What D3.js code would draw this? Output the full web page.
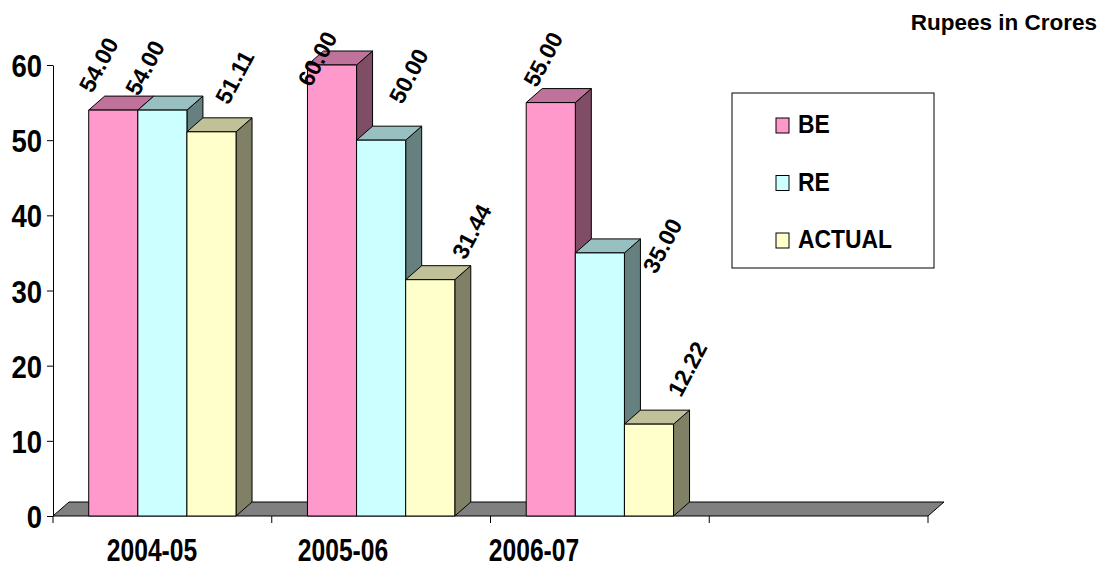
<!DOCTYPE html>
<html>
<head>
<meta charset="utf-8">
<script src="https://cdn.jsdelivr.net/npm/d3@7"></script>
<style>
  html, body { margin: 0; padding: 0; background: #fff; }
  svg { display: block; }
  text { font-family: "Liberation Sans", Arial, sans-serif; font-weight: bold; fill: #000; }
</style>
</head>
<body>
<svg id="chart" width="1104" height="569"></svg>
<script>
// ---- data ----
const categories = ["2004-05", "2005-06", "2006-07"];
const seriesNames = ["BE", "RE", "ACTUAL"];
const beValues = [54.00, 60.00, 55.00];
const reValues = [54.00, 50.00, 35.00];
const actualValues = [51.11, 31.44, 12.22];
const yTicks = [0, 10, 20, 30, 40, 50, 60];
const unitNote = "Rupees in Crores";

// ---- styling / layout ----
const faceColors = {
  BE:     { front: "#FF99CC", top: "#C0739A", side: "#804D66" },
  RE:     { front: "#CCFFFF", top: "#99C0C0", side: "#668080" },
  ACTUAL: { front: "#FFFFCC", top: "#C0C099", side: "#808066" }
};
const depth = { dx: 16, dy: -14 };
const slotCount = 4;            // the category axis keeps one empty slot on the right
// label anchor nudges (baseline start) relative to the centre of each bar's front-top edge
const labelNudge = {
  BE:     [[-21, -16], [-21, 23], [-14, -14]],
  RE:     [[-24, -13], [21, -35], [56, 22]],
  ACTUAL: [[17, -26], [35, -19], [32, -26]]
};

const valuesBySeries = { BE: beValues, RE: reValues, ACTUAL: actualValues };

const svg = d3.select("#chart");

const x0 = d3.scaleBand().domain(d3.range(slotCount)).range([53, 928]).paddingInner(0);
const x1 = d3.scaleBand().domain(seriesNames).range([0, x0.bandwidth()]).paddingInner(0).paddingOuter(0.727);
const y = d3.scaleLinear().domain([0, 60]).range([516, 65]);

// floor
const fx0 = x0.range()[0], fx1 = x0.range()[1], fy = y(0);
svg.append("path")
  .attr("d", `M${fx0},${fy} L${fx1},${fy} L${fx1 + depth.dx},${fy + depth.dy} L${fx0 + depth.dx},${fy + depth.dy} Z`)
  .attr("fill", "#808080").attr("stroke", "#000").attr("stroke-width", 1);

// y axis
const yAxis = d3.axisLeft(y).tickValues(yTicks).tickSize(6).tickSizeOuter(0).tickFormat(d3.format("d"));
const gy = svg.append("g").attr("transform", `translate(${fx0},0)`).call(yAxis);
gy.select(".domain").attr("stroke", "#000");
gy.selectAll(".tick line").attr("stroke", "#000");
gy.selectAll(".tick text")
  .attr("x", null).attr("dy", null)
  .attr("transform", "translate(-11,11.5) scale(0.86,1)")
  .style("font-size", "32px")
  .style("font-family", "'Liberation Sans', Arial, sans-serif")
  .style("font-weight", "bold")
  .attr("fill", "#000");

// category boundary ticks below the floor
const boundaries = d3.range(slotCount).map(i => x0(i)).concat([fx1]);
svg.append("g").selectAll("line").data(boundaries).join("line")
  .attr("x1", d => d).attr("x2", d => d)
  .attr("y1", fy).attr("y2", fy + 7)
  .attr("stroke", "#000").attr("stroke-width", 1);

// category labels
const xLabel = d3.scalePoint().domain(categories).range([152, 534]);
svg.append("g").selectAll("text").data(categories).join("text")
  .attr("transform", d => `translate(${xLabel(d)},561) scale(0.77,1)`)
  .attr("text-anchor", "middle")
  .style("font-size", "32px")
  .text(d => d);

// 3D bars, drawn left to right so each bar hides the lower part of its neighbour's side
const barsG = svg.append("g");
categories.forEach((cat, ci) => {
  seriesNames.forEach(s => {
    const v = valuesBySeries[s][ci];
    const xl = x0(ci) + x1(s);
    const xr = xl + x1.bandwidth();
    const yt = y(v), yb = y(0);
    const dx = depth.dx, dy = depth.dy;
    const c = faceColors[s];
    const g = barsG.append("g");
    g.append("path")
      .attr("d", `M${xr},${yt} L${xr + dx},${yt + dy} L${xr + dx},${yb + dy} L${xr},${yb} Z`)
      .attr("fill", c.side);
    g.append("path")
      .attr("d", `M${xl},${yt} L${xr},${yt} L${xr + dx},${yt + dy} L${xl + dx},${yt + dy} Z`)
      .attr("fill", c.top);
    g.append("rect")
      .attr("x", xl).attr("y", yt).attr("width", xr - xl).attr("height", yb - yt)
      .attr("fill", c.front);
    g.selectAll("path, rect").attr("stroke", "#000").attr("stroke-width", 1).attr("stroke-linejoin", "round");
  });
});

// value labels
const fmt = d3.format(".2f");
const labelsG = svg.append("g");
categories.forEach((cat, ci) => {
  seriesNames.forEach(s => {
    const v = valuesBySeries[s][ci];
    const cx = x0(ci) + x1(s) + x1.bandwidth() / 2;
    const [nx, ny] = labelNudge[s][ci];
    labelsG.append("text")
      .attr("transform", `translate(${cx + nx},${y(v) + ny}) rotate(-62)`)
      .style("font-size", "23px")
      .text(fmt(v));
  });
});

// legend
const lg = svg.append("g");
lg.append("rect").attr("x", 732).attr("y", 93).attr("width", 202).attr("height", 175)
  .attr("fill", "#fff").attr("stroke", "#000").attr("stroke-width", 1);
const legendY = d3.scalePoint().domain(seriesNames).range([133, 248]);
seriesNames.forEach(s => {
  lg.append("rect").attr("x", 776).attr("y", legendY(s) - 15).attr("width", 13).attr("height", 15)
    .attr("fill", faceColors[s].front).attr("stroke", "#000").attr("stroke-width", 1);
  lg.append("text").attr("transform", `translate(798,${legendY(s)}) scale(0.88,1)`)
    .style("font-size", "26px").text(s);
});

// unit note
svg.append("text").attr("x", 1097).attr("y", 30).attr("text-anchor", "end")
  .style("font-size", "22.5px").text(unitNote);
</script>
</body>
</html>
